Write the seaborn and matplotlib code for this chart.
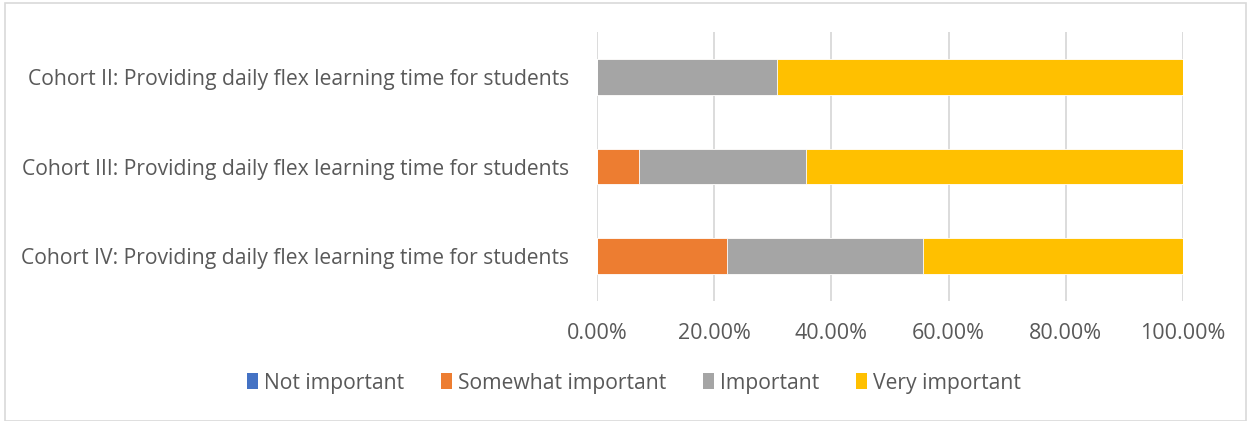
import numpy as np
import pandas as pd
import matplotlib
matplotlib.use("Agg")
import matplotlib.pyplot as plt
from matplotlib.patches import Patch
from matplotlib.ticker import FuncFormatter
import seaborn as sns

# data (percent of respondents)
cohorts = [
    "Cohort II: Providing daily flex learning time for students",
    "Cohort III: Providing daily flex learning time for students",
    "Cohort IV: Providing daily flex learning time for students",
]
levels = ["Not important", "Somewhat important", "Important", "Very important"]
not_important = [0.0, 0.0, 0.0]
somewhat_important = [0.0, 7.14, 22.22]
important = [30.77, 28.57, 33.33]
very_important = [69.23, 64.29, 44.44]

colors = ["#4472C4", "#ED7D31", "#A5A5A5", "#FFC000"]
text_grey = "#595959"

sns.set_theme(style="white")
plt.rcParams["font.family"] = ["Open Sans", "DejaVu Sans"]

df = pd.DataFrame({
    "cohort": cohorts,
    "Not important": not_important,
    "Somewhat important": somewhat_important,
    "Important": important,
    "Very important": very_important,
})
cum = df[levels].cumsum(axis=1)

fig = plt.figure(figsize=(12.52, 4.21), dpi=100)
ax = fig.add_axes([597 / 1252, 1 - 301 / 421, 586 / 1252, 269 / 421])

# draw the stacks from the outermost cumulative total inwards
for lvl, col in reversed(list(zip(levels, colors))):
    sns.barplot(x=cum[lvl], y=df["cohort"], color=col, saturation=1, orient="h",
                width=0.4, edgecolor="white", linewidth=0.6, ax=ax, zorder=3)

ax.set_xlim(0, 100)
ax.set_ylim(2.5, -0.5)
ax.set_xticks(np.arange(0, 101, 20))
ax.xaxis.set_major_formatter(FuncFormatter(lambda v, _: f"{v:.2f}%"))
ax.grid(axis="x", color="#d9d9d9", linewidth=1.3, zorder=0)
ax.set_axisbelow(True)
for s in ax.spines.values():
    s.set_visible(False)
ax.set_xlabel("")
ax.set_ylabel("")
ax.tick_params(axis="x", length=0, pad=16, labelsize=15.5, labelcolor=text_grey)
ax.tick_params(axis="y", length=0, pad=20, labelsize=15.2, labelcolor=text_grey)

handles = [Patch(facecolor=c, edgecolor="none") for c in colors]
fig.legend(handles, levels, loc="center", bbox_to_anchor=(634 / 1252, 1 - 383 / 421),
           ncol=4, frameon=False, fontsize=15.2, labelcolor=text_grey,
           handlelength=0.5, handleheight=0.8, handletextpad=0.3, columnspacing=1.75)

# outer chart border
fig.patches.append(plt.Rectangle((5 / 1252, 0), 1241 / 1252, 1 - 3 / 421,
                                 transform=fig.transFigure, fill=False,
                                 edgecolor="#d9d9d9", linewidth=1.2))

fig.savefig("out.png", dpi=100)
